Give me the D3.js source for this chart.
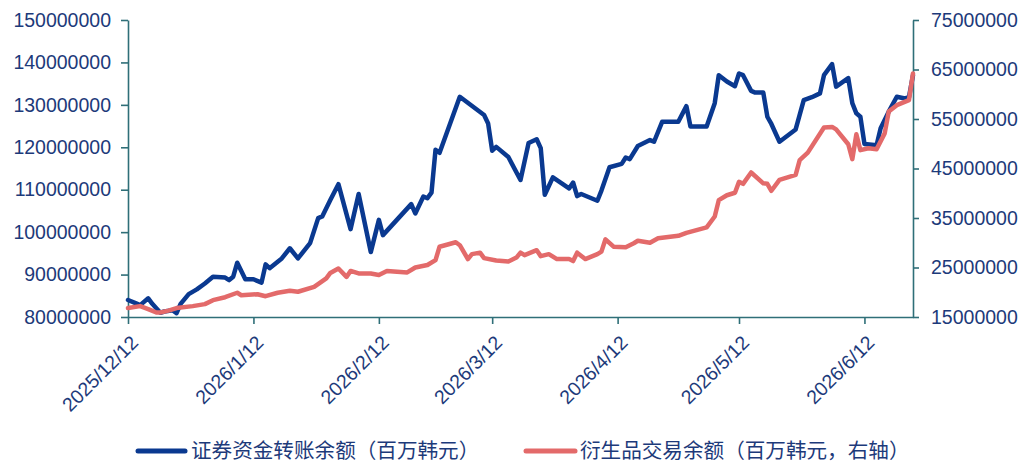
<!DOCTYPE html>
<html><head><meta charset="utf-8">
<script src="https://cdn.jsdelivr.net/npm/d3@7"></script>
<style>
html,body{margin:0;padding:0;background:#fff;}
svg{display:block;}
</style></head>
<body>
<svg id="chart" width="1032" height="468"></svg>
<script>
// ---- data ----
const seriesNames = ["证券资金转账余额（百万韩元）", "衍生品交易余额（百万韩元，右轴）"];
const blueDates = ["2025-12-12","2025-12-14","2025-12-15","2025-12-17","2025-12-18","2025-12-20","2025-12-21","2025-12-23","2025-12-24","2025-12-25","2025-12-27","2025-12-29","2025-12-31",
"2026-01-02","2026-01-05","2026-01-06","2026-01-07","2026-01-08","2026-01-10","2026-01-12","2026-01-14","2026-01-15","2026-01-16","2026-01-19","2026-01-21","2026-01-23","2026-01-26","2026-01-28","2026-01-29","2026-01-31",
"2026-02-02","2026-02-05","2026-02-07","2026-02-10","2026-02-12","2026-02-13","2026-02-20","2026-02-21","2026-02-23","2026-02-24","2026-02-25","2026-02-26","2026-02-27",
"2026-03-04","2026-03-10","2026-03-11","2026-03-12","2026-03-13","2026-03-16","2026-03-19","2026-03-21","2026-03-23","2026-03-24","2026-03-25","2026-03-27","2026-03-31",
"2026-04-01","2026-04-02","2026-04-03","2026-04-07","2026-04-08","2026-04-10","2026-04-13","2026-04-14","2026-04-15","2026-04-17","2026-04-20","2026-04-21","2026-04-23","2026-04-27","2026-04-29","2026-04-30",
"2026-05-04","2026-05-06","2026-05-07","2026-05-09","2026-05-11","2026-05-12","2026-05-13","2026-05-15","2026-05-16","2026-05-18","2026-05-19","2026-05-20","2026-05-22","2026-05-26","2026-05-28","2026-05-30",
"2026-06-01","2026-06-02","2026-06-04","2026-06-05","2026-06-08","2026-06-09","2026-06-10","2026-06-11","2026-06-12","2026-06-15","2026-06-16","2026-06-18","2026-06-20","2026-06-22","2026-06-23","2026-06-24"];
const blueValues = [84.0e6,83.2e6,82.8e6,84.4e6,83.1e6,81.0e6,81.3e6,81.6e6,80.9e6,83.1e6,85.4e6,86.5e6,87.9e6,
89.5e6,89.3e6,88.7e6,89.5e6,92.8e6,88.9e6,88.9e6,88.1e6,92.4e6,91.5e6,93.8e6,96.2e6,93.8e6,97.4e6,103.3e6,103.7e6,107.6e6,
111.3e6,100.7e6,109.0e6,95.3e6,102.9e6,99.3e6,106.6e6,104.4e6,108.4e6,108.0e6,109.3e6,119.4e6,118.7e6,
131.9e6,127.6e6,125.6e6,119.2e6,120.1e6,117.7e6,112.3e6,121.0e6,121.9e6,119.8e6,108.8e6,112.9e6,110.3e6,
111.7e6,108.5e6,109.0e6,107.4e6,109.8e6,115.3e6,116.1e6,117.6e6,117.2e6,120.3e6,121.7e6,121.3e6,126.0e6,126.0e6,129.7e6,124.9e6,
124.9e6,130.4e6,137.0e6,135.5e6,134.4e6,137.4e6,137.0e6,133.3e6,132.9e6,132.9e6,127.2e6,125.5e6,121.3e6,124.2e6,131.1e6,131.8e6,
132.7e6,137.0e6,139.6e6,134.3e6,136.3e6,130.4e6,128.0e6,127.2e6,120.8e6,120.5e6,124.5e6,128.4e6,131.9e6,131.5e6,131.8e6,137.0e6];

const redDates = ["2025-12-12","2025-12-15","2025-12-17","2025-12-19","2025-12-20","2025-12-22","2025-12-24","2025-12-28","2025-12-31",
"2026-01-02","2026-01-05","2026-01-08","2026-01-09","2026-01-13","2026-01-15","2026-01-18","2026-01-21","2026-01-23","2026-01-27","2026-01-30","2026-01-31",
"2026-02-02","2026-02-04","2026-02-05","2026-02-07","2026-02-10","2026-02-12","2026-02-14","2026-02-19","2026-02-21","2026-02-24","2026-02-26","2026-02-27",
"2026-03-03","2026-03-04","2026-03-06","2026-03-07","2026-03-09","2026-03-10","2026-03-13","2026-03-16","2026-03-18","2026-03-19","2026-03-20","2026-03-23","2026-03-24","2026-03-26","2026-03-28","2026-03-31",
"2026-04-01","2026-04-02","2026-04-04","2026-04-07","2026-04-08","2026-04-09","2026-04-11","2026-04-14","2026-04-16","2026-04-17","2026-04-20","2026-04-22","2026-04-25","2026-04-27","2026-04-29",
"2026-05-04","2026-05-06","2026-05-07","2026-05-09","2026-05-11","2026-05-12","2026-05-13","2026-05-15","2026-05-18","2026-05-19","2026-05-20","2026-05-22","2026-05-26","2026-05-27","2026-05-29",
"2026-06-02","2026-06-04","2026-06-05","2026-06-08","2026-06-09","2026-06-10","2026-06-11","2026-06-13","2026-06-15","2026-06-17","2026-06-18","2026-06-20","2026-06-23","2026-06-24"];
const redValues = [16.8e6,17.2e6,16.6e6,15.9e6,15.9e6,16.3e6,16.8e6,17.2e6,17.6e6,
18.4e6,19.0e6,19.9e6,19.4e6,19.6e6,19.2e6,19.9e6,20.3e6,20.1e6,21.1e6,22.8e6,23.9e6,
24.8e6,23.1e6,24.3e6,23.8e6,23.8e6,23.5e6,24.3e6,24.0e6,25.0e6,25.5e6,26.5e6,29.2e6,
30.1e6,29.5e6,26.7e6,27.7e6,28.0e6,26.9e6,26.4e6,26.2e6,27.0e6,28.0e6,27.5e6,28.5e6,27.3e6,27.7e6,26.7e6,26.7e6,
26.3e6,28.0e6,26.7e6,27.7e6,28.2e6,30.7e6,29.2e6,29.1e6,29.9e6,30.4e6,30.0e6,30.9e6,31.2e6,31.4e6,32.0e6,
33.1e6,35.3e6,38.6e6,39.6e6,40.1e6,42.3e6,41.9e6,44.2e6,42.0e6,41.9e6,40.5e6,42.7e6,43.7e6,46.7e6,48.2e6,
53.3e6,53.4e6,52.9e6,49.9e6,46.9e6,51.9e6,48.7e6,49.1e6,48.9e6,52.1e6,56.5e6,57.8e6,58.8e6,64.2e6];

const xTickDates = ["2025-12-12","2026-01-12","2026-02-12","2026-03-12","2026-04-12","2026-05-12","2026-06-12"];
const xTickLabels = ["2025/12/12","2026/1/12","2026/2/12","2026/3/12","2026/4/12","2026/5/12","2026/6/12"];
const xDomain = ["2025-12-12","2026-06-24"];
const leftTicks = [80e6,90e6,100e6,110e6,120e6,130e6,140e6,150e6];
const rightTicks = [15e6,25e6,35e6,45e6,55e6,65e6,75e6];

// ---- drawing ----
const parse = d3.utcParse("%Y-%m-%d");
const svg = d3.select("#chart");
const L = 128, R = 913, T = 20, B = 317;
const axisColor = "#2f6f78", textColor = "#1d3a7a";
const blueColor = "#0a3990", redColor = "#e36a6a";
const font = "'Liberation Sans', Arial, Helvetica, sans-serif";
const cjk = "'Noto Sans CJK SC', 'Noto Sans', sans-serif";

const x = d3.scaleUtc().domain(xDomain.map(parse)).range([L, R]);
const yL = d3.scaleLinear().domain([80e6,150e6]).range([B, T]);
const yR = d3.scaleLinear().domain([15e6,75e6]).range([B, T]);

const blue = blueDates.map((d,i)=>({date:parse(d), v:blueValues[i]}));
const red = redDates.map((d,i)=>({date:parse(d), v:redValues[i]}));

// axes
const gL = svg.append("g").attr("transform",`translate(${L},0)`)
  .call(d3.axisLeft(yL).tickValues(leftTicks).tickFormat(d3.format("d")).tickSize(7).tickSizeOuter(0).tickPadding(10));
const gR = svg.append("g").attr("transform",`translate(${R},0)`)
  .call(d3.axisRight(yR).tickValues(rightTicks).tickFormat(d3.format("d")).tickSize(6).tickSizeOuter(0).tickPadding(12));
const gB = svg.append("g").attr("transform",`translate(0,${B})`)
  .call(d3.axisBottom(x).tickValues(xTickDates.map(parse)).tickFormat((d,i)=>xTickLabels[i]).tickSize(7).tickSizeOuter(0));

[gL,gR,gB].forEach(g=>{
  g.selectAll("path.domain").attr("stroke",axisColor).attr("stroke-width",1.6);
  g.selectAll(".tick line").attr("stroke",axisColor).attr("stroke-width",1.6);
  g.selectAll("text").attr("fill",textColor).style("font-family",font).style("font-size","19.5px");
});
gB.selectAll(".tick text")
  .attr("text-anchor","end")
  .attr("x",0).attr("y",0).attr("dy","0.35em")
  .attr("transform","translate(6,22) rotate(-45)");

// lines
const lineL = d3.line().x(d=>x(d.date)).y(d=>yL(d.v));
const lineR = d3.line().x(d=>x(d.date)).y(d=>yR(d.v));
svg.append("path").datum(blue).attr("d",lineL).attr("fill","none")
  .attr("stroke",blueColor).attr("stroke-width",4.5).attr("stroke-linejoin","round").attr("stroke-linecap","round");
svg.append("path").datum(red).attr("d",lineR).attr("fill","none")
  .attr("stroke",redColor).attr("stroke-width",4.5).attr("stroke-linejoin","round").attr("stroke-linecap","round");

// legend
const legend = [
  {name: seriesNames[0], color: blueColor, x0: 138, x1: 185, tx: 191},
  {name: seriesNames[1], color: redColor, x0: 526, x1: 575, tx: 580}
];
const ly = 451;
legend.forEach(l=>{
  svg.append("line").attr("x1",l.x0).attr("x2",l.x1).attr("y1",ly).attr("y2",ly)
    .attr("stroke",l.color).attr("stroke-width",5).attr("stroke-linecap","round");
  svg.append("text").attr("x",l.tx).attr("y",ly).attr("dy","0.36em")
    .attr("fill",textColor).style("font-family",cjk).style("font-size","20.6px").text(l.name);
});
</script>
</body></html>
